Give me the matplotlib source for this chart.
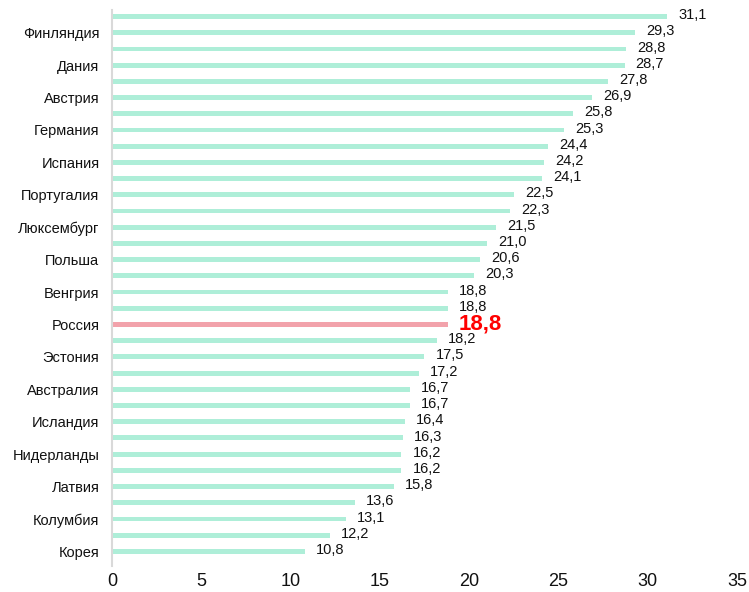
import matplotlib.pyplot as plt

plt.rcParams['font.family'] = ['Liberation Sans', 'DejaVu Sans']

# values top to bottom
values = [31.1, 29.3, 28.8, 28.7, 27.8, 26.9, 25.8, 25.3, 24.4, 24.2, 24.1,
          22.5, 22.3, 21.5, 21.0, 20.6, 20.3, 18.8, 18.8, 18.8, 18.2, 17.5,
          17.2, 16.7, 16.7, 16.4, 16.3, 16.2, 16.2, 15.8, 13.6, 13.1, 12.2, 10.8]
countries = ['', 'Финляндия', '', 'Дания', '', 'Австрия', '', 'Германия', '',
             'Испания', '', 'Португалия', '', 'Люксембург', '', 'Польша', '',
             'Венгрия', '', 'Россия', '', 'Эстония', '', 'Австралия', '',
             'Исландия', '', 'Нидерланды', '', 'Латвия', '', 'Колумбия', '',
             'Корея']
highlight = 'Россия'

fig = plt.figure(figsize=(7.49, 5.92), dpi=100)
ax = fig.add_axes([0.1495, 0.044, 0.8345, 0.939])

y = list(range(len(values)))
colors = ['#f2a2ab' if c == highlight else '#aeeed8' for c in countries]
ax.barh(y, values, height=0.3, color=colors)

for i, v in enumerate(values):
    txt = f'{v:.1f}'.replace('.', ',')
    if countries[i] == highlight:
        ax.annotate(txt, (v, i), xytext=(8, 0), textcoords='offset points',
                    ha='left', va='center', fontsize=16, fontweight='bold', color='red')
    else:
        ax.annotate(txt, (v, i), xytext=(8, 1), textcoords='offset points',
                    ha='left', va='center', fontsize=10.5, color='#111111')

ax.set_yticks(y)
ax.set_yticklabels(countries, fontsize=10.5, color='#111111')
ax.set_ylim(33.9, -0.4)
ax.set_xlim(0, 35)
ax.set_xticks(range(0, 36, 5))
ax.tick_params(axis='x', labelsize=13, length=0, pad=5, labelcolor='#111111')
ax.tick_params(axis='y', length=0, pad=9)
for s in ['top', 'right', 'bottom']:
    ax.spines[s].set_visible(False)
ax.spines['left'].set_color('#d9d9d9')
ax.spines['left'].set_linewidth(1.5)

fig.savefig('out.png', dpi=100)
